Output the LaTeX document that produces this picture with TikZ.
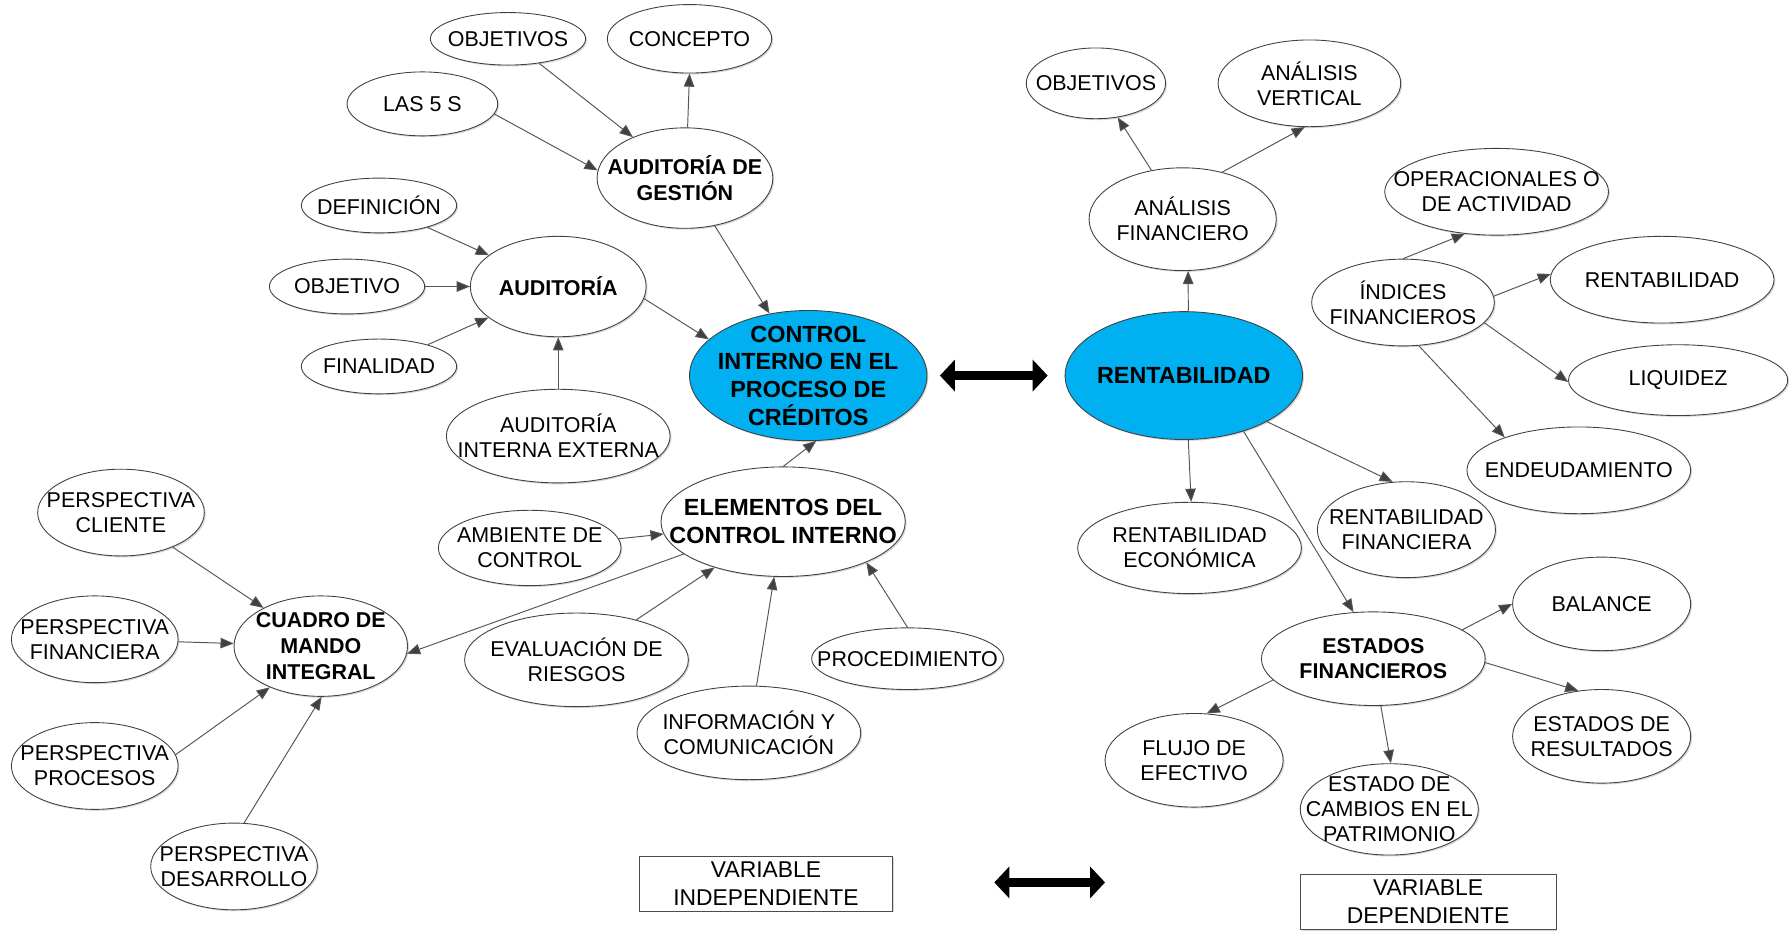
\documentclass[tikz,border=0pt]{standalone}
\usepackage{fontspec}
\setmainfont{Liberation Sans}
\usetikzlibrary{arrows.meta, shapes.geometric, shadows}
\definecolor{nodeblue}{RGB}{0,176,240}
\definecolor{linegray}{RGB}{85,85,85}

\tikzset{
    bub/.style 2 args={ellipse, draw=black!75, line width=0.5pt, fill=white, align=center,
        inner sep=-3cm, minimum width=#1*0.04566cm, minimum height=#2*0.04566cm,
        font=\fontsize{12.2}{14.2}\selectfont,
        drop shadow={shadow xshift=0.8pt, shadow yshift=-0.8pt, fill=black!30, opacity=0.5}},
    hub/.style={font=\fontsize{12.2}{14.6}\selectfont\bfseries},
    core/.style={font=\fontsize{13.3}{15.7}\selectfont\bfseries, fill=nodeblue},
    varbox/.style={draw=black!70, fill=white, inner sep=0pt, align=center,
        minimum width=222*0.02283cm, minimum height=48*0.02283cm,
        font=\fontsize{13}{15.7}\selectfont,
        drop shadow={shadow xshift=0.8pt, shadow yshift=-0.8pt, fill=black!30, opacity=0.5}},
    arr/.style={draw=linegray, line width=0.55pt, -{Triangle[length=7.5pt, width=6pt, fill=black!75]}},
    twoway/.style={line width=5.3pt, {Triangle[length=0.3cm, width=0.62cm]}-{Triangle[length=0.3cm, width=0.62cm]}}
}

\begin{document}
\begin{tikzpicture}[x=0.02283cm, y=-0.02283cm]
    \useasboundingbox (0,0) rectangle (1568,816);

    % Variable independiente
    \node[bub={104}{57}, core] (control) at (708,329) {CONTROL\\INTERNO EN EL\\PROCESO DE\\CRÉDITOS};
    \node[bub={77}{44}, hub] (audges) at (600,156) {AUDITORÍA DE\\GESTIÓN};
    \node[bub={68}{23}] (objizq) at (445,34) {OBJETIVOS};
    \node[bub={72}{30}] (concepto) at (604,34) {CONCEPTO};
    \node[bub={66}{28}] (cincos) at (370,91) {LAS 5 S};
    \node[bub={77}{44}, hub] (auditoria) at (489,251) {AUDITORÍA};
    \node[bub={68}{24}] (definicion) at (332,180) {DEFINICIÓN};
    \node[bub={68}{24}] (objetivo) at (304,251) {OBJETIVO};
    \node[bub={68}{24}] (finalidad) at (332,321) {FINALIDAD};
    \node[bub={98}{41}] (audint) at (489,382) {AUDITORÍA\\INTERNA EXTERNA};
    \node[bub={107}{48}, core, fill=white] (elementos) at (686,457) {ELEMENTOS DEL\\CONTROL INTERNO};
    \node[bub={80}{33}] (ambiente) at (464,480) {AMBIENTE DE\\CONTROL};
    \node[bub={98}{41}] (evaluacion) at (505,578) {EVALUACIÓN DE\\RIESGOS};
    \node[bub={98}{41}] (informacion) at (656,642) {INFORMACIÓN Y\\COMUNICACIÓN};
    \node[bub={84}{27}] (procedim) at (795,577) {PROCEDIMIENTO};
    \node[bub={76}{44}, hub] (cuadro) at (281,566) {CUADRO DE\\MANDO\\INTEGRAL};
    \node[bub={73}{38}] (pcliente) at (106,449) {PERSPECTIVA\\CLIENTE};
    \node[bub={73}{38}] (pfinan) at (83,560) {PERSPECTIVA\\FINANCIERA};
    \node[bub={73}{38}] (pproc) at (83,671) {PERSPECTIVA\\PROCESOS};
    \node[bub={73}{38}] (pdesa) at (205,759) {PERSPECTIVA\\DESARROLLO};

    \draw[arr] (objizq) -- (audges);
    \draw[arr] (audges.87) -- (concepto.-90);
    \draw[arr] (cincos.-8) -- (audges.175);
    \draw[arr] (audges) -- (control);
    \draw[arr] (definicion) -- (auditoria);
    \draw[arr] (objetivo) -- (auditoria);
    \draw[arr] (finalidad) -- (auditoria);
    \draw[arr] (audint) -- (auditoria);
    \draw[arr] (auditoria.-8) -- (control.160);
    \draw[arr] (elementos.north) -- (control.-83);
    \draw[arr] (ambiente) -- (elementos);
    \draw[arr] (evaluacion) -- (elementos);
    \draw[arr] (informacion) -- (elementos);
    \draw[arr] (procedim.north) -- (elementos.-26);
    \draw[arr] (elementos.198) -- (cuadro.-5);
    \draw[arr] (pcliente) -- (cuadro);
    \draw[arr] (pfinan) -- (cuadro);
    \draw[arr] (pproc.8) -- (cuadro.219);
    \draw[arr] (pdesa.77) -- (cuadro.-89);

    % Variable dependiente
    \node[bub={104}{56}, core] (rentab) at (1037,329) {RENTABILIDAD};
    \node[bub={82}{45}] (analfin) at (1036,192) {ANÁLISIS\\FINANCIERO};
    \node[bub={61}{31}] (objder) at (960,73) {OBJETIVOS};
    \node[bub={80}{38}] (analver) at (1147,73) {ANÁLISIS\\VERTICAL};
    \node[bub={98}{38}] (operac) at (1311,168) {OPERACIONALES O\\DE ACTIVIDAD};
    \node[bub={80}{38}] (indices) at (1229,265) {ÍNDICES\\FINANCIEROS};
    \node[bub={98}{38}] (rentder) at (1456,245) {RENTABILIDAD};
    \node[bub={96}{31}] (liquidez) at (1470,333) {LIQUIDEZ};
    \node[bub={98}{38}] (endeuda) at (1383,412) {ENDEUDAMIENTO};
    \node[bub={78}{42}] (rentfin) at (1232,464) {RENTABILIDAD\\FINANCIERA};
    \node[bub={98}{40}] (rentecon) at (1042,480) {RENTABILIDAD\\ECONÓMICA};
    \node[bub={98}{41}, hub] (estfin) at (1203,577) {ESTADOS\\FINANCIEROS};
    \node[bub={78}{41}] (balance) at (1403,529) {BALANCE};
    \node[bub={78}{41}] (estres) at (1403,645) {ESTADOS DE\\RESULTADOS};
    \node[bub={78}{41}] (flujo) at (1046,666) {FLUJO DE\\EFECTIVO};
    \node[bub={78}{40}] (cambios) at (1217,709) {ESTADO DE\\CAMBIOS EN EL\\PATRIMONIO};

    \draw[arr] (rentab.86) -- (analfin.-84);
    \draw[arr] (analfin) -- (objder);
    \draw[arr] (analfin.50) -- (analver.-96);
    \draw[arr] (indices.north) -- (operac.233);
    \draw[arr] (indices.4) -- (rentder.177);
    \draw[arr] (indices.-14) -- (liquidez.181);
    \draw[arr] (indices.-70) -- (endeuda.156);
    \draw[arr] (rentab.-86) -- (rentecon.88);
    \draw[arr] (rentab.-29) -- (rentfin.106);
    \draw[arr] (rentab.-43) -- (estfin.113);
    \draw[arr] (estfin.18) -- (balance.180);
    \draw[arr] (estfin.-2) -- (estres.117);
    \draw[arr] (estfin.192) -- (flujo.75);
    \draw[arr] (estfin.-81) -- (cambios.88);

    % Relacion entre variables
    \draw[twoway, shorten <=0.25cm, shorten >=0.34cm] (control.east) -- (rentab.west);
    \node[varbox] (varind) at (671,774) {VARIABLE\\INDEPENDIENTE};
    \node[varbox, minimum width=224*0.02283cm, minimum height=49*0.02283cm] (vardep) at (1251,790) {VARIABLE\\DEPENDIENTE};
    \coordinate (rel1) at (871,773);
    \coordinate (rel2) at (968,773);
    \draw[twoway] (rel1) -- (rel2);
\end{tikzpicture}
\end{document}
